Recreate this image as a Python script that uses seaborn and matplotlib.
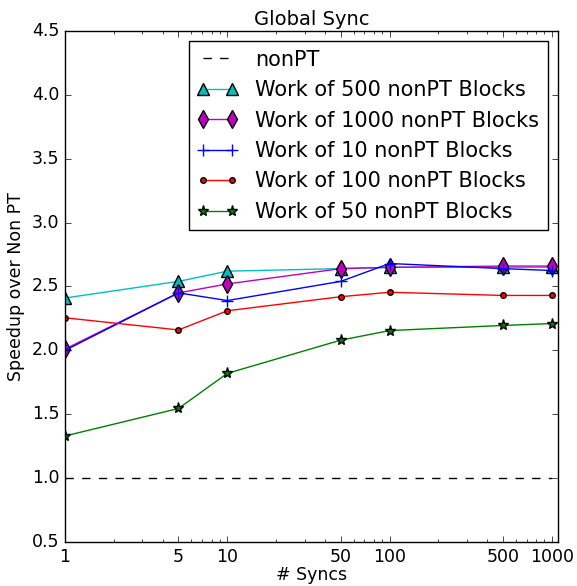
import matplotlib
matplotlib.use("Agg")
import matplotlib.pyplot as plt
import seaborn as sns
from matplotlib.ticker import FixedLocator, FixedFormatter

# --- dados ---
syncs = [1, 5, 10, 50, 100, 500, 1000]
tick_labels = ["1", "5", "10", "50", "100", "500", "1000"]
non_pt = [1.0] * len(syncs)
work_500 = [2.41, 2.54, 2.62, 2.64, 2.65, 2.65, 2.65]
work_1000 = [2.01, 2.45, 2.52, 2.64, 2.65, 2.66, 2.66]
work_10 = [2.00, 2.45, 2.39, 2.54, 2.68, 2.64, 2.625]
work_100 = [2.255, 2.16, 2.31, 2.42, 2.455, 2.43, 2.43]
work_50 = [1.33, 1.545, 1.82, 2.08, 2.155, 2.195, 2.21]

plt.style.use("classic")

fig = plt.figure(figsize=(5.77, 5.86), dpi=100, facecolor="white")
ax = fig.add_axes([0.1127, 0.0751, 0.8543, 0.8720])
ax.set_xscale("log")

sns.lineplot(x=syncs, y=non_pt, ax=ax, color="k", linestyle="--",
             label="nonPT", linewidth=1)
series = [
    ("Work of 500 nonPT Blocks", work_500, "c", "^", 8),
    ("Work of 1000 nonPT Blocks", work_1000, "m", "d", 9),
    ("Work of 10 nonPT Blocks", work_10, "b", "+", 8),
    ("Work of 100 nonPT Blocks", work_100, "r", "o", 4),
    ("Work of 50 nonPT Blocks", work_50, "g", "*", 8),
]
for nome, vals, cor, mk, ms in series:
    sns.lineplot(x=syncs, y=vals, ax=ax, color=cor, marker=mk, markersize=ms,
                 markeredgecolor="b" if mk == "+" else "k", markeredgewidth=1,
                 label=nome, linewidth=1)

ax.set_xlim(1, 1090)
ax.set_ylim(0.5, 4.5)
ax.xaxis.set_major_locator(FixedLocator(syncs))
ax.xaxis.set_major_formatter(FixedFormatter(tick_labels))
ax.set_yticks([0.5, 1.0, 1.5, 2.0, 2.5, 3.0, 3.5, 4.0, 4.5])
ax.tick_params(labelsize=12.5)

ax.set_title("Global Sync", fontsize=14, pad=4)
ax.set_xlabel("# Syncs", fontsize=12.5, labelpad=0)
ax.set_ylabel("Speedup over Non PT", fontsize=12.5)

ax.legend(loc="upper right", numpoints=2, fontsize=15)

fig.savefig("out.png", dpi=100, facecolor="white")
plt.close(fig)
